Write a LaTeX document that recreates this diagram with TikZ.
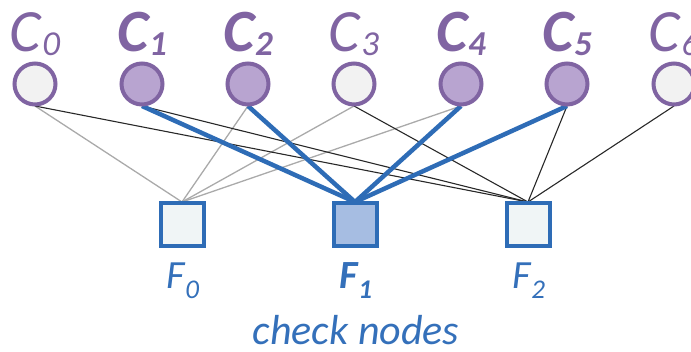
\documentclass[tikz,border=0pt]{standalone}
\usepackage{fontspec}
\setmainfont{Carlito}
\definecolor{cpurple}{RGB}{128,100,162}
\definecolor{cfillon}{RGB}{184,164,208}
\definecolor{cfilloff}{RGB}{242,242,242}
\definecolor{cblue}{RGB}{46,108,182}
\definecolor{ffillon}{RGB}{166,189,226}
\definecolor{ffilloff}{RGB}{240,245,246}
\definecolor{ftext}{RGB}{52,112,186}
\definecolor{edgegray}{RGB}{170,170,170}
\definecolor{edgeblack}{RGB}{40,40,40}
\newcommand\clab[1]{\fontsize{60}{60}\selectfont\itshape C\kern1pt\raisebox{-4pt}{\fontsize{35}{35}\selectfont #1}}
\newcommand\clabb[1]{\fontsize{60}{60}\selectfont\itshape\bfseries C\kern1pt\raisebox{-4pt}{\fontsize{35}{35}\selectfont #1}}
\newcommand\flab[1]{\fontsize{40}{40}\selectfont\itshape F\raisebox{-10pt}{\fontsize{27}{27}\selectfont #1}}
\newcommand\flabb[1]{\fontsize{40}{40}\selectfont\itshape\bfseries F\raisebox{-10pt}{\fontsize{27}{27}\selectfont #1}}
\tikzset{
  varoff/.style={circle,draw=cpurple,fill=cfilloff,line width=4pt,minimum size=41pt,inner sep=0pt},
  varon/.style={varoff,fill=cfillon},
  chkoff/.style={rectangle,draw=cblue,fill=ffilloff,line width=4pt,minimum size=43pt,inner sep=0pt},
  chkon/.style={chkoff,fill=ffillon},
  clabel/.style={text=cpurple,anchor=base,inner sep=0pt},
  flabel/.style={text=ftext,anchor=base,inner sep=0pt},
  egray/.style={draw=edgegray,line width=1.3pt},
  eblack/.style={draw=edgeblack,line width=1.1pt},
  eblue/.style={draw=cblue,line width=4.5pt},
}
\begin{document}
\begin{tikzpicture}[x=1pt,y=-1pt]
\path[use as bounding box] (0,0) rectangle (691,351);
% node centres
\coordinate (p0) at (35,84);
\coordinate (p1) at (142,84);
\coordinate (p2) at (248,84);
\coordinate (p3) at (354,84);
\coordinate (p4) at (461,84);
\coordinate (p5) at (567,84);
\coordinate (p6) at (674,84);
\coordinate (q0) at (182,224);
\coordinate (q1) at (355,224);
\coordinate (q2) at (528,224);
% edge end points (bottom of circles, top of squares)
\path (p0) ++(0,22) coordinate (s0);
\path (p1) ++(0,22) coordinate (s1);
\path (p2) ++(0,22) coordinate (s2);
\path (p3) ++(0,22) coordinate (s3);
\path (p4) ++(0,22) coordinate (s4);
\path (p5) ++(0,22) coordinate (s5);
\path (p6) ++(0,22) coordinate (s6);
\path (q0) ++(0,-22) coordinate (t0);
\path (q1) ++(0,-22) coordinate (t1);
\path (q2) ++(0,-22) coordinate (t2);
% edges (drawn first, below the nodes)
\draw[egray] (s0) -- (t0);
\draw[egray] (s2) -- (t0);
\draw[egray] (s3) -- (t0);
\draw[egray] (s4) -- (t0);
\draw[eblack] (s0) -- (t2);
\draw[eblack] (s1) -- (t2);
\draw[eblack] (s3) -- (t2);
\draw[eblack] (s5) -- (t2);
\draw[eblack] (s6) -- (t2);
\draw[eblue] (s1) -- (t1);
\draw[eblue] (s2) -- (t1);
\draw[eblue] (s4) -- (t1);
\draw[eblue] (s5) -- (t1);
% variable nodes
\node[varoff] (c0) at (p0) {};
\node[varon]  (c1) at (p1) {};
\node[varon]  (c2) at (p2) {};
\node[varoff] (c3) at (p3) {};
\node[varon]  (c4) at (p4) {};
\node[varon]  (c5) at (p5) {};
\node[varoff] (c6) at (p6) {};
% check nodes
\node[chkoff] (f0) at (q0) {};
\node[chkon]  (f1) at (q1) {};
\node[chkoff] (f2) at (q2) {};
% labels
\node[clabel] (l0) at (35,51) {\clab{0}};
\node[clabel] (l1) at (142,51) {\clabb{1}};
\node[clabel] (l2) at (248,51) {\clabb{2}};
\node[clabel] (l3) at (354,51) {\clab{3}};
\node[clabel] (l4) at (461,51) {\clabb{4}};
\node[clabel] (l5) at (567,51) {\clabb{5}};
\node[clabel] (l6) at (674,51) {\clab{6}};
\node[flabel] (g0) at (183,288) {\flab{0}};
\node[flabel] (g1) at (356,288) {\flabb{1}};
\node[flabel] (g2) at (529,288) {\flab{2}};
\node[flabel] (cn) at (356,344) {\fontsize{42}{42}\selectfont\itshape check nodes};
\end{tikzpicture}
\end{document}
